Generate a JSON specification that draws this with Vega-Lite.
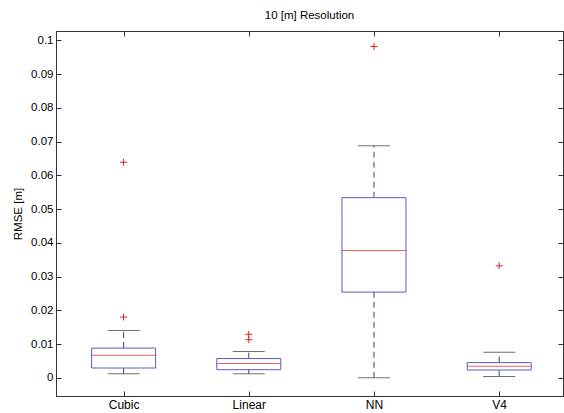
{
  "$schema": "https://vega.github.io/schema/vega-lite/v6.json",
  "width": 507,
  "height": 365,
  "autosize": "none",
  "padding": {"left": 56, "top": 31, "right": 1, "bottom": 17},
  "background": "white",
  "config": {
    "font": "Liberation Sans",
    "view": {"stroke": "#333333", "strokeWidth": 1},
    "axis": {"grid": false, "labelFont": "Liberation Sans", "labelFontSize": 11.5, "labelColor": "#000000", "titleFont": "Liberation Sans", "titleFontSize": 11.5, "titleFontWeight": "normal", "titleColor": "#000000", "domainColor": "#333333", "tickColor": "#333333", "tickSize": -5}
  },
  "title": {"text": "10 [m] Resolution", "font": "Liberation Sans", "fontSize": 11.5, "fontWeight": "normal", "color": "#000000", "offset": 9},
  "datasets": {
    "boxes": [
      {"cat": "Cubic", "idx": 1, "lower": 0.0012, "q1": 0.0029, "median": 0.0067, "q3": 0.0088, "upper": 0.0140},
      {"cat": "Linear", "idx": 2, "lower": 0.0012, "q1": 0.0024, "median": 0.0042, "q3": 0.0057, "upper": 0.0078},
      {"cat": "NN", "idx": 3, "lower": 0.0, "q1": 0.0254, "median": 0.0377, "q3": 0.0534, "upper": 0.0688},
      {"cat": "V4", "idx": 4, "lower": 0.0004, "q1": 0.0023, "median": 0.0034, "q3": 0.0045, "upper": 0.0076}
    ],
    "outliers": [
      {"cat": "Cubic", "idx": 1, "value": 0.0639},
      {"cat": "Cubic", "idx": 1, "value": 0.0180},
      {"cat": "Linear", "idx": 2, "value": 0.0129},
      {"cat": "Linear", "idx": 2, "value": 0.0113},
      {"cat": "NN", "idx": 3, "value": 0.0982},
      {"cat": "V4", "idx": 4, "value": 0.0332}
    ]
  },
  "resolve": {"axis": {"x": "independent", "y": "independent"}},
  "layer": [
    {
      "data": {"name": "boxes"},
      "mark": {"type": "rule", "color": "#3a3a9a", "strokeDash": [6, 4], "strokeWidth": 1},
      "encoding": {
        "x": {"field": "idx", "type": "quantitative", "scale": {"domain": [0.5, 4.47], "nice": false, "zero": false},
          "axis": {"orient": "bottom", "values": [1, 2, 3, 4], "labelExpr": "['','Cubic','Linear','NN','V4'][datum.value]", "title": null, "labelPadding": 8, "labelFontSize": 12}},
        "y": {"field": "q3", "type": "quantitative", "scale": {"domain": [-0.0054, 0.1028], "nice": false, "zero": false},
          "axis": {"orient": "left", "values": [0, 0.01, 0.02, 0.03, 0.04, 0.05, 0.06, 0.07, 0.08, 0.09, 0.1], "format": "~g", "title": "RMSE [m]", "labelPadding": 8, "titlePadding": 7}},
        "y2": {"field": "upper"}
      }
    },
    {
      "data": {"name": "boxes"},
      "mark": {"type": "rule", "color": "#3a3a9a", "strokeDash": [6, 4], "strokeWidth": 1},
      "encoding": {
        "x": {"field": "idx", "type": "quantitative", "axis": null},
        "y": {"field": "lower", "type": "quantitative", "axis": null},
        "y2": {"field": "q1"}
      }
    },
    {
      "data": {"name": "boxes"},
      "mark": {"type": "tick", "orient": "horizontal", "size": 32, "thickness": 1, "color": "#333333"},
      "encoding": {
        "x": {"field": "idx", "type": "quantitative", "axis": null},
        "y": {"field": "upper", "type": "quantitative", "axis": null}
      }
    },
    {
      "data": {"name": "boxes"},
      "mark": {"type": "tick", "orient": "horizontal", "size": 32, "thickness": 1, "color": "#333333"},
      "encoding": {
        "x": {"field": "idx", "type": "quantitative", "axis": null},
        "y": {"field": "lower", "type": "quantitative", "axis": null}
      }
    },
    {
      "data": {"name": "boxes"},
      "mark": {"type": "bar", "size": 64, "fill": "white", "stroke": "#5a5acc", "strokeWidth": 1},
      "encoding": {
        "x": {"field": "idx", "type": "quantitative", "axis": null},
        "y": {"field": "q1", "type": "quantitative", "axis": null},
        "y2": {"field": "q3"}
      }
    },
    {
      "data": {"name": "boxes"},
      "mark": {"type": "tick", "orient": "horizontal", "size": 64, "thickness": 1, "color": "#e02020"},
      "encoding": {
        "x": {"field": "idx", "type": "quantitative", "axis": null},
        "y": {"field": "median", "type": "quantitative", "axis": null}
      }
    },
    {
      "data": {"name": "outliers"},
      "mark": {"type": "point", "shape": "M-1,0H1M0,-1V1", "size": 49, "filled": false, "stroke": "#e02020", "strokeWidth": 1, "opacity": 1},
      "encoding": {
        "x": {"field": "idx", "type": "quantitative", "axis": {"orient": "top", "values": [1, 2, 3, 4], "labels": false, "title": null}},
        "y": {"field": "value", "type": "quantitative", "axis": {"orient": "right", "values": [0, 0.01, 0.02, 0.03, 0.04, 0.05, 0.06, 0.07, 0.08, 0.09, 0.1], "labels": false, "title": null}}
      }
    }
  ]
}
